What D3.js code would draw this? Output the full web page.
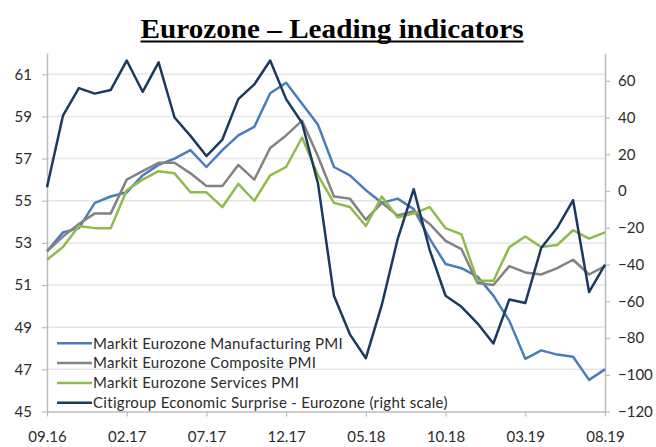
<!DOCTYPE html>
<html>
<head>
    <meta charset="utf-8">
    <title>Eurozone - Leading indicators</title>
    <script src="https://cdn.jsdelivr.net/npm/d3@7"></script>
    <style>
        body {
            margin: 0;
            background: #fff;
        }

        svg text {
            font-family: Lato, "Open Sans", sans-serif;
        }
    </style>
</head>
<body>
<svg id="chart" width="656" height="447"></svg>
<script>
    // months, 09.16 .. 08.19
    var months = ["09.16", "10.16", "11.16", "12.16", "01.17", "02.17", "03.17", "04.17", "05.17", "06.17",
        "07.17", "08.17", "09.17", "10.17", "11.17", "12.17", "01.18", "02.18", "03.18", "04.18",
        "05.18", "06.18", "07.18", "08.18", "09.18", "10.18", "11.18", "12.18", "01.19", "02.19",
        "03.19", "04.19", "05.19", "06.19", "07.19", "08.19"];
    var xTicks = ["09.16", "02.17", "07.17", "12.17", "05.18", "10.18", "03.19", "08.19"];
    var leftTicks = [45, 47, 49, 51, 53, 55, 57, 59, 61];
    var rightTicks = [-120, -100, -80, -60, -40, -20, 0, 20, 40, 60];

    var manufacturing = [52.6, 53.5, 53.7, 54.9, 55.2, 55.4, 56.2, 56.7, 57.0, 57.4,
        56.6, 57.4, 58.1, 58.5, 60.1, 60.6, 59.6, 58.6, 56.6, 56.2,
        55.5, 54.9, 55.1, 54.6, 53.2, 52.0, 51.8, 51.4, 50.5, 49.3,
        47.5, 47.9, 47.7, 47.6, 46.5, 47.0];
    var composite = [52.6, 53.3, 53.9, 54.4, 54.4, 56.0, 56.4, 56.8, 56.8, 56.3,
        55.7, 55.7, 56.7, 56.0, 57.5, 58.1, 58.8, 57.1, 55.2, 55.1,
        54.1, 54.9, 54.3, 54.5, 53.9, 53.1, 52.7, 51.1, 51.0, 51.9,
        51.6, 51.5, 51.8, 52.2, 51.5, 51.9];
    var services = [52.2, 52.8, 53.8, 53.7, 53.7, 55.5, 56.0, 56.4, 56.3, 55.4,
        55.4, 54.7, 55.8, 55.0, 56.2, 56.6, 58.0, 56.2, 54.9, 54.7,
        53.8, 55.2, 54.2, 54.4, 54.7, 53.7, 53.4, 51.2, 51.2, 52.8,
        53.3, 52.8, 52.9, 53.6, 53.2, 53.5];
    var citi = [2, 41, 56, 53, 55, 71, 54, 70, 40, 30,
        19, 28, 50, 58, 71, 50, 37, 4, -57, -78,
        -91, -62, -26, 1, -32, -57, -63, -72, -83, -59,
        -61, -31, -20, -5, -55, -40];

    var series = [
        {name: "Markit Eurozone Manufacturing PMI", values: manufacturing, axis: "left", color: "#4a7ebb"},
        {name: "Markit Eurozone Composite PMI", values: composite, axis: "left", color: "#838383"},
        {name: "Markit Eurozone Services PMI", values: services, axis: "left", color: "#8fbb4c"},
        {name: "Citigroup Economic Surprise - Eurozone (right scale)", values: citi, axis: "right", color: "#1c3a5e"}
    ];

    var svg = d3.select("#chart");
    var plotLeft = 47, plotRight = 605, plotTop = 53.2, plotBottom = 411.5;

    var x = d3.scalePoint().domain(months).range([plotLeft, plotRight]);
    var yL = d3.scaleLinear().domain([45, 62]).range([plotBottom, plotTop]);
    var yR = d3.scaleLinear().domain([-120, 75]).range([plotBottom, plotTop]);

    //标题
    svg.append("text")
        .attr("x", 332)
        .attr("y", 38)
        .attr("text-anchor", "middle")
        .attr("textLength", 383)
        .attr("lengthAdjust", "spacingAndGlyphs")
        .style("font-family", "'Liberation Serif', 'DejaVu Serif', serif")
        .style("font-weight", "bold")
        .style("font-size", "27px")
        .attr("fill", "#000")
        .text("Eurozone \u2013 Leading indicators");
    svg.append("rect")
        .attr("x", 332 - 383 / 2)
        .attr("y", 40.5)
        .attr("width", 383)
        .attr("height", 2)
        .attr("fill", "#000");

    // grid
    svg.append("g").selectAll("line").data(leftTicks.filter(function(d) { return d > 45; }))
        .enter().append("line")
        .attr("x1", plotLeft).attr("x2", plotRight)
        .attr("y1", function(d) { return yL(d); })
        .attr("y2", function(d) { return yL(d); })
        .attr("stroke", "#e6e6e6")
        .attr("stroke-width", 1.5);

    function styleAxis(g) {
        g.select(".domain").attr("stroke", "#bcbcbc").attr("stroke-width", 1.5);
        g.selectAll(".tick line").attr("stroke", "#bcbcbc").attr("stroke-width", 1.2);
        g.selectAll(".tick text").attr("fill", "#2b2b2b").style("font-size", "15px");
    }

    svg.append("g")
        .attr("transform", "translate(" + plotLeft + ",0)")
        .call(d3.axisLeft(yL).tickValues(leftTicks).tickSize(5).tickSizeOuter(0).tickPadding(10))
        .call(styleAxis);

    svg.append("g")
        .attr("transform", "translate(" + plotRight + ",0)")
        .call(d3.axisRight(yR).tickValues(rightTicks).tickSize(5).tickSizeOuter(0).tickPadding(8))
        .call(styleAxis);

    svg.append("g")
        .attr("transform", "translate(0," + plotBottom + ")")
        .call(d3.axisBottom(x).tickValues(xTicks).tickSize(5).tickSizeOuter(0).tickPadding(15))
        .call(styleAxis);

    // lines
    series.forEach(function(s) {
        var y = s.axis == "left" ? yL : yR;
        var line = d3.line()
            .x(function(d, i) { return x(months[i]); })
            .y(function(d) { return y(d); });
        svg.append("path")
            .datum(s.values)
            .attr("d", line)
            .attr("fill", "none")
            .attr("stroke", s.color)
            .attr("stroke-width", 2.5)
            .attr("stroke-linejoin", "round");
    });

    // legend
    var legend = svg.append("g").selectAll("g").data(series)
        .enter().append("g")
        .attr("transform", function(d, i) { return "translate(57," + (343.3 + i * 19.8) + ")"; });
    legend.append("line")
        .attr("x1", 0).attr("x2", 35)
        .attr("stroke", function(d) { return d.color; })
        .attr("stroke-width", 2.5);
    legend.append("text")
        .attr("x", 36)
        .attr("dy", "0.35em")
        .attr("fill", "#2b2b2b")
        .style("font-size", "15px")
        .style("letter-spacing", "0.3px")
        .text(function(d) { return d.name; });
</script>
</body>
</html>
